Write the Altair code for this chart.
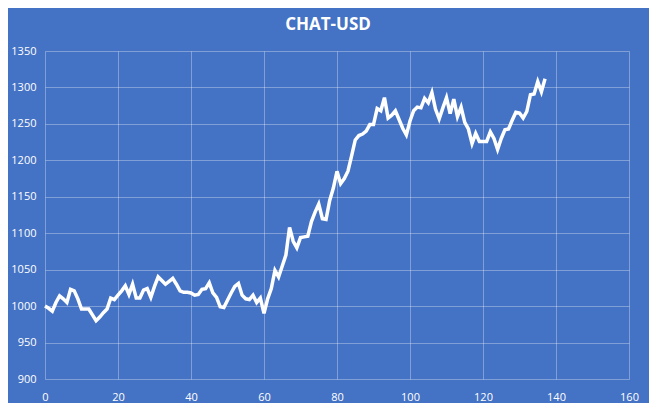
import altair as alt
import pandas as pd

title_text = "CHAT-USD"
values = [
    1000, 997, 993, 1005, 1014, 1010, 1005, 1023, 1021, 1010,
    996, 996, 996, 988, 980, 985, 991, 996, 1011, 1009,
    1015, 1021, 1028, 1016, 1030, 1011, 1011, 1022, 1024, 1012,
    1027, 1040, 1035, 1030, 1034, 1038, 1030, 1021, 1019, 1019,
    1018, 1015, 1016, 1023, 1024, 1032, 1018, 1012, 999, 998,
    1008, 1018, 1027, 1031, 1015, 1010, 1009, 1015, 1005, 1011,
    990, 1010, 1024, 1049, 1040, 1055, 1070, 1108, 1089, 1080,
    1094, 1095, 1096, 1116, 1129, 1140, 1120, 1119, 1145, 1162,
    1185, 1168, 1175, 1185, 1206, 1228, 1234, 1236, 1240, 1249,
    1249, 1271, 1268, 1286, 1258, 1262, 1268, 1256, 1244, 1235,
    1254, 1268, 1273, 1272, 1285, 1279, 1293, 1270, 1257, 1272,
    1286, 1264, 1284, 1260, 1273, 1252, 1243, 1223, 1237, 1226,
    1226, 1226, 1239, 1230, 1215, 1230, 1242, 1243, 1255, 1266,
    1265, 1258, 1267, 1290, 1291, 1308, 1294, 1312,
]
steps = list(range(len(values)))
x_ticks = [0, 20, 40, 60, 80, 100, 120, 140, 160]
y_ticks = [900, 950, 1000, 1050, 1100, 1150, 1200, 1250, 1300, 1350]

df = pd.DataFrame({"step": steps, "price": values})

BG = "#4472C4"
FONT = "Open Sans"

chart = (
    alt.Chart(df)
    .mark_line(color="white", strokeWidth=3.5, strokeJoin="miter", strokeCap="butt")
    .encode(
        x=alt.X("step:Q", scale=alt.Scale(domain=[0, 160], nice=False, zero=False),
                axis=alt.Axis(values=x_ticks, title=None, labelPadding=12,
                              labelFlush=False, format="d")),
        y=alt.Y("price:Q", scale=alt.Scale(domain=[900, 1350], nice=False, zero=False),
                axis=alt.Axis(values=y_ticks, title=None, labelPadding=9,
                              labelFlush=False, format="d")),
    )
    .properties(
        width=584,
        height=328,
        background=BG,
        autosize="none",
        padding={"left": 37, "top": 43, "right": 20, "bottom": 24},
        title=alt.TitleParams(title_text, color="white", fontSize=17, font=FONT,
                              fontWeight="bold", anchor="middle", dx=-9, offset=11),
    )
    .configure_view(stroke=None)
    .configure_axis(
        grid=True,
        gridColor="white",
        gridOpacity=0.32,
        gridWidth=1,
        domain=False,
        ticks=False,
        labelColor="white",
        labelFont=FONT,
        labelFontSize=11,
    )
)

chart.save("out.html", embed_options={"renderer": "svg", "actions": False})
